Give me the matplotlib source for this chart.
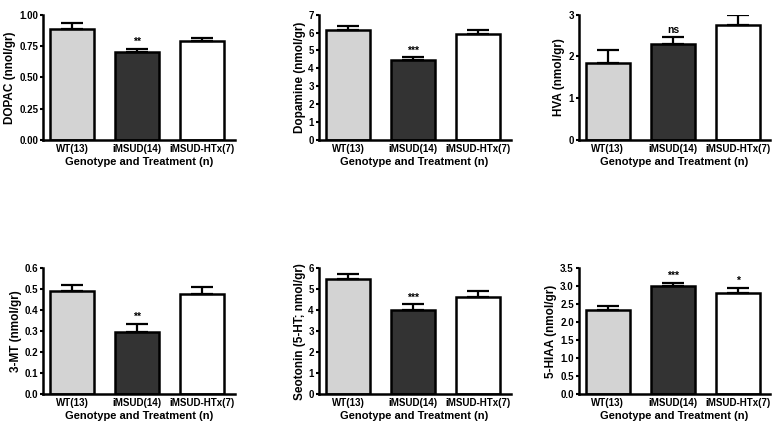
import numpy as np
import matplotlib
matplotlib.use('Agg')
import matplotlib.pyplot as plt

plt.rcParams['font.family'] = ['Liberation Sans', 'DejaVu Sans']
plt.rcParams['font.weight'] = 'bold'
plt.rcParams['axes.labelweight'] = 'bold'

groups = ['WT(13)', 'iMSUD(14)', 'iMSUD-HTx(7)']
colors = ['#d3d3d3', '#333333', '#ffffff']

# mean and SEM per panel
dopac = [0.885, 0.705, 0.79]
dopac_sem = [0.05, 0.025, 0.022]
dopamine = [6.13, 4.46, 5.93]
dopamine_sem = [0.24, 0.15, 0.2]
hva = [1.84, 2.30, 2.76]
hva_sem = [0.31, 0.16, 0.22]
mt3 = [0.49, 0.295, 0.475]
mt3_sem = [0.03, 0.04, 0.037]
serotonin = [5.47, 4.02, 4.63]
serotonin_sem = [0.24, 0.26, 0.3]
hiaa = [2.34, 3.0, 2.81]
hiaa_sem = [0.1, 0.09, 0.15]

panels = [
    (dopac, dopac_sem, 'DOPAC (nnol/gr)', (0, 1.0), [0, 0.25, 0.5, 0.75, 1.0], '{:.2f}', ['', '**', '']),
    (dopamine, dopamine_sem, 'Dopamine (nmol/gr)', (0, 7), [0, 1, 2, 3, 4, 5, 6, 7], '{:.0f}', ['', '***', '']),
    (hva, hva_sem, 'HVA (nmol/gr)', (0, 3), [0, 1, 2, 3], '{:.0f}', ['', 'ns', '']),
    (mt3, mt3_sem, '3-MT (nmol/gr)', (0, 0.6), [0, 0.1, 0.2, 0.3, 0.4, 0.5, 0.6], '{:.1f}', ['', '**', '']),
    (serotonin, serotonin_sem, 'Seotonin (5-HT; nmol/gr)', (0, 6), [0, 1, 2, 3, 4, 5, 6], '{:.0f}', ['', '***', '']),
    (hiaa, hiaa_sem, '5-HIAA (nmol/gr)', (0, 3.5), [0, 0.5, 1.0, 1.5, 2.0, 2.5, 3.0, 3.5], '{:.1f}', ['', '***', '*']),
]

fig = plt.figure(figsize=(7.83, 4.30), dpi=100)
lefts = [0.055, 0.407, 0.739]
bottoms = [0.674, 0.084]
x = np.arange(3)

for i, (vals, sem, ylabel, ylim, yticks, fmt, stars) in enumerate(panels):
    ax = fig.add_axes([lefts[i % 3], bottoms[i // 3], 0.245, 0.292])
    ax.bar(x, vals, width=0.68, color=colors, edgecolor='black', linewidth=1.8,
           yerr=[np.zeros(3), sem], capsize=8,
           error_kw={'elinewidth': 1.6, 'capthick': 1.6, 'ecolor': 'black'}, zorder=2)
    for xi, v, s, t in zip(x, vals, sem, stars):
        if t:
            ax.text(xi, v + s + (ylim[1] * 0.015), t, ha='center', va='bottom', fontsize=7.5)
    ax.set_xlim(-0.45, 2.5)
    ax.set_ylim(*ylim)
    ax.set_yticks(yticks)
    ax.set_yticklabels([fmt.format(t) for t in yticks])
    ax.set_xticks(x)
    ax.set_xticklabels(groups)
    ax.tick_params(axis='x', length=0, labelsize=7, pad=3)
    ax.tick_params(axis='y', length=2.5, width=1.5, labelsize=7, pad=1)
    for spine in ('top', 'right'):
        ax.spines[spine].set_visible(False)
    for spine in ('left', 'bottom'):
        ax.spines[spine].set_linewidth(1.8)
    ax.set_ylabel(ylabel, fontsize=8.5, labelpad=2)
    ax.set_xlabel('Genotype and Treatment (n)', fontsize=8, labelpad=2)

fig.savefig('out.png', dpi=100)
